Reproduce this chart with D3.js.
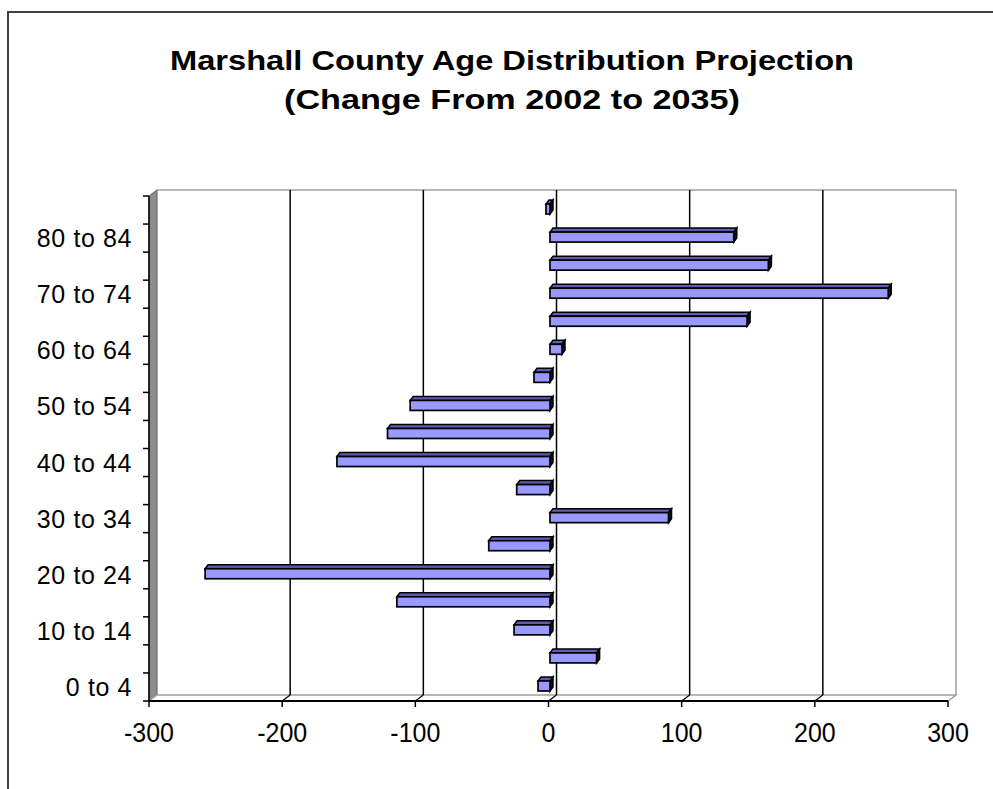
<!DOCTYPE html>
<html>
<head>
<meta charset="utf-8">
<script src="https://cdn.jsdelivr.net/npm/d3@7"></script>
<style>
  html, body { margin: 0; padding: 0; background: #fff; }
  svg { display: block; }
  text { font-family: "Liberation Sans", Arial, sans-serif; fill: #000; }
</style>
</head>
<body>
<svg id="chart" width="993" height="789"></svg>
<script>
const titleLines = ["Marshall County Age Distribution Projection", "(Change From 2002 to 2035)"];
const categories = ["0 to 4","5 to 9","10 to 14","15 to 19","20 to 24","25 to 29","30 to 34","35 to 39","40 to 44","45 to 49","50 to 54","55 to 59","60 to 64","65 to 69","70 to 74","75 to 79","80 to 84","85 +"];
const values = [-9, 35, -27, -115, -259, -46, 89, -25, -160, -122, -105, -12, 9, 148, 254, 164, 138, -3];
const xTicks = [-300, -200, -100, 0, 100, 200, 300];

const svg = d3.select("#chart");

// outer frame
svg.append("path").attr("d", "M8,789 L8,12 L993,12")
  .attr("fill", "none").attr("stroke", "#404040").attr("stroke-width", 2);

// title
svg.selectAll("text.title").data(titleLines).join("text")
  .attr("class", "title")
  .attr("transform", (d, i) => `translate(512,${70 + i * 39}) scale(1,1.12)`)
  .attr("text-anchor", "middle")
  .attr("font-weight", "bold")
  .attr("font-size", 25)
  .attr("textLength", (d, i) => i === 0 ? 684 : 456)
  .attr("lengthAdjust", "spacingAndGlyphs")
  .text(d => d);

// scales (front plane)
const x = d3.scaleLinear().domain([-300, 300]).range([149, 948]);
const y = d3.scaleBand().domain(categories).range([701, 196]);
const wallDX = 8, wallDY = -6;
const yTop = 196, yBot = 701;

// left side wall
svg.append("polygon")
  .attr("points", [[x(-300), yTop], [x(-300) + wallDX, yTop + wallDY], [x(-300) + wallDX, yBot + wallDY], [x(-300), yBot]].map(p => p.join(",")).join(" "))
  .attr("fill", "#8c8c8c").attr("stroke", "#5a5a5a").attr("stroke-width", 1);

// floor
svg.append("polygon")
  .attr("points", [[x(-300), yBot], [x(-300) + wallDX, yBot + wallDY], [x(300) + wallDX, yBot + wallDY], [x(300), yBot]].map(p => p.join(",")).join(" "))
  .attr("fill", "#ffffff").attr("stroke", "#a0a0a0").attr("stroke-width", 1.5);

// back wall outline (top & right edges)
svg.append("path")
  .attr("d", `M${x(-300) + wallDX},${yTop + wallDY} L${x(300) + wallDX},${yTop + wallDY} L${x(300) + wallDX},${yBot + wallDY}`)
  .attr("fill", "none").attr("stroke", "#a0a0a0").attr("stroke-width", 1.5);

// gridlines on back wall + floor
const gridVals = xTicks.filter(v => v > -300 && v < 300);
svg.selectAll("line.grid").data(gridVals).join("line")
  .attr("class", "grid")
  .attr("x1", d => x(d) + wallDX).attr("x2", d => x(d) + wallDX)
  .attr("y1", yTop + wallDY).attr("y2", yBot + wallDY)
  .attr("stroke", "#000").attr("stroke-width", 1.5);
svg.selectAll("line.floorgrid").data(gridVals).join("line")
  .attr("class", "floorgrid")
  .attr("x1", d => x(d) + wallDX).attr("x2", d => x(d))
  .attr("y1", yBot + wallDY).attr("y2", yBot)
  .attr("stroke", "#000").attr("stroke-width", 1.2);

// bars
const barDX = 3, barDY = -4, barH = 10, offX = 1.5, offY = -1;
const bars = svg.append("g");
categories.forEach((c, i) => {
  const v = values[i];
  const xa = x(0) + offX, xb = x(v) + offX;
  const l = Math.min(xa, xb), r = Math.max(xa, xb);
  const cy = y(c) + y.bandwidth() / 2 + offY;
  const t = cy - barH / 2, b = t + barH;
  const g = bars.append("g");
  g.append("polygon")
    .attr("points", [[l, t], [l + barDX, t + barDY], [r + barDX, t + barDY], [r, t]].map(p => p.join(",")).join(" "))
    .attr("fill", "#5c5cb0").attr("stroke", "#000").attr("stroke-width", 1.5);
  g.append("polygon")
    .attr("points", [[r, t], [r + barDX, t + barDY], [r + barDX, b + barDY], [r, b]].map(p => p.join(",")).join(" "))
    .attr("fill", "#111").attr("stroke", "#000").attr("stroke-width", 1.5);
  g.append("rect")
    .attr("x", l).attr("y", t).attr("width", Math.max(r - l, 0.5)).attr("height", barH)
    .attr("fill", "#9999ff").attr("stroke", "#000").attr("stroke-width", 1.7);
});

// y axis
const yAxisG = svg.append("g");
yAxisG.append("line").attr("x1", x(-300)).attr("x2", x(-300)).attr("y1", yTop).attr("y2", yBot)
  .attr("stroke", "#000").attr("stroke-width", 1.5);
const bounds = categories.map(c => y(c)).concat([yBot]);
yAxisG.selectAll("line.ytick").data(bounds).join("line")
  .attr("class", "ytick")
  .attr("x1", x(-300) - 6).attr("x2", x(-300))
  .attr("y1", d => d).attr("y2", d => d)
  .attr("stroke", "#000").attr("stroke-width", 1.5);
yAxisG.selectAll("text.ylab").data(categories.filter((c, i) => i % 2 === 0 && i < 17)).join("text")
  .attr("class", "ylab")
  .attr("text-anchor", "end")
  .attr("transform", d => `translate(132,${y(d) + y.bandwidth() / 2 + 9})`)
  .attr("font-size", 25)
  .attr("letter-spacing", 0.6)
  .text(d => d);

// x axis (front)
const xAxisG = svg.append("g");
xAxisG.append("line").attr("x1", x(-300)).attr("x2", x(300)).attr("y1", yBot).attr("y2", yBot)
  .attr("stroke", "#000").attr("stroke-width", 1.8);
xAxisG.selectAll("line.xtick").data(xTicks).join("line")
  .attr("class", "xtick")
  .attr("x1", d => x(d)).attr("x2", d => x(d))
  .attr("y1", yBot).attr("y2", yBot + 6)
  .attr("stroke", "#000").attr("stroke-width", 1.5);
xAxisG.selectAll("text.xlab").data(xTicks).join("text")
  .attr("class", "xlab")
  .attr("text-anchor", "middle")
  .attr("transform", d => `translate(${x(d)},742) scale(1,1.12)`)
  .attr("font-size", 25)
  .text(d => d);
</script>
</body>
</html>
